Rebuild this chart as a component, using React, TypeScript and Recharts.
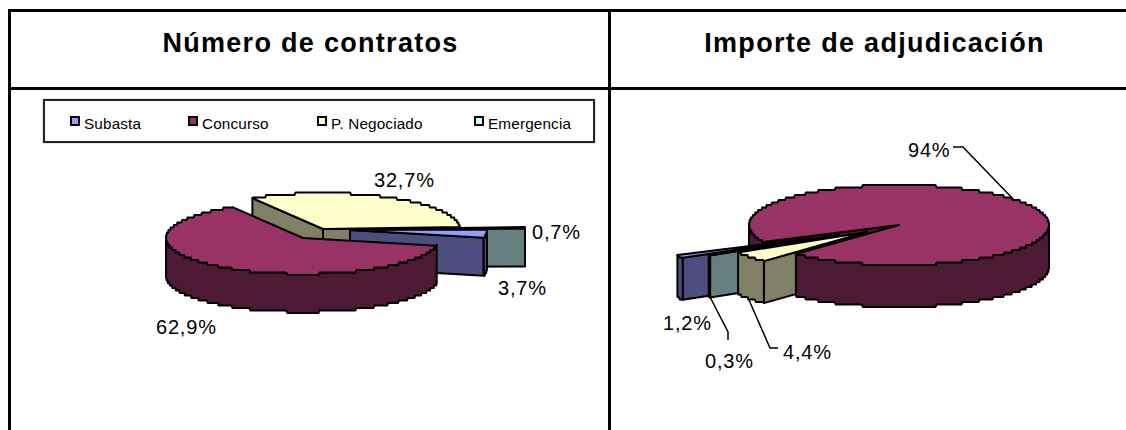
import React from 'react';
import { PieChart, Pie, Legend } from 'recharts';

const SERIES_NAMES = ['P. Negociado', 'Emergencia', 'Subasta', 'Concurso'];
const LEGEND_NAMES = ['Subasta', 'Concurso', 'P. Negociado', 'Emergencia'];
const CONTRACT_VALUES = [32.7, 0.7, 3.7, 62.9];
const AMOUNT_VALUES = [4.4, 0.3, 1.2, 94];
const TITLE_LEFT = 'Número de contratos';
const TITLE_RIGHT = 'Importe de adjudicación';

const TOP: Record<string, string> = { Subasta: '#9999ff', Concurso: '#993366', 'P. Negociado': '#ffffcc', Emergencia: '#ccffff' };
const WALL: Record<string, string> = { Subasta: '#4d4d80', Concurso: '#4d1a33', 'P. Negociado': '#808066', Emergencia: '#668080' };
const FONT = '"Liberation Sans", Arial, sans-serif';
const rad = Math.PI / 180;

const toRows = (values: number[]) => SERIES_NAMES.map((name, i) => ({ name, value: values[i] }));
const fmt = (v: number) => `${String(v).replace('.', ',')}%`;

type Geo = { ratio: number; depth: number; shift: Record<string, [number, number]> };

const LEFT_GEO: Geo = {
  ratio: 36 / 137,
  depth: 38,
  shift: { 'P. Negociado': [20, -9], Emergencia: [85, -9], Subasta: [47, -8], Concurso: [0, 0] },
};
const RIGHT_GEO: Geo = {
  ratio: 40 / 150,
  depth: 42,
  shift: { 'P. Negociado': [-32, 7], Emergencia: [-60, 10], Subasta: [-86, 13], Concurso: [0, 0] },
};

const path = (pts: number[][]) => pts.map((p, i) => `${i ? 'L' : 'M'}${p[0].toFixed(1)},${p[1].toFixed(1)}`).join('') + 'Z';
const STEP = 2.5;

function makeShape(geo: Geo, only: string, part: 'full' | 'back' | 'front') {
  return (props: any) => {
    const { cx, cy, outerRadius: rx, startAngle, endAngle, name } = props;
    if (name !== only) return <g />;
    const [dx, dy] = geo.shift[name];
    const ry = rx * geo.ratio;
    const x0 = cx + dx;
    const y0 = cy + dy;
    const pt = (a: number) => [x0 + rx * Math.cos(a * rad), Math.round((y0 - ry * Math.sin(a * rad)) / STEP) * STEP];
    const exact = (a: number) => [x0 + rx * Math.cos(a * rad), y0 - ry * Math.sin(a * rad)];
    const n = Math.max(2, Math.ceil(Math.abs(endAngle - startAngle) * 2));
    const angles = Array.from({ length: n + 1 }, (_, i) => startAngle + ((endAngle - startAngle) * i) / n);
    const arc = angles.map((a, i) => (i === 0 || i === n ? exact(a) : pt(a)));
    const runs: number[][][] = [];
    let cur: number[][] = [];
    angles.forEach((a, i) => {
      if (Math.sin(a * rad) <= 0.001) cur.push(arc[i]);
      else if (cur.length) {
        runs.push(cur);
        cur = [];
      }
    });
    if (cur.length) runs.push(cur);
    const wallOf = (r: number[][]) => path([...r, ...[...r].reverse().map((p) => [p[0], p[1] + geo.depth])]);
    const radial = (a: number) => {
      const e = exact(a);
      return path([[x0, y0], e, [e[0], e[1] + geo.depth], [x0, y0 + geo.depth]]);
    };
    const sw = { stroke: '#000', strokeWidth: 2, strokeLinejoin: 'round' as const };
    const startsFront = Math.sin(startAngle * rad) <= 0.001;
    let shownRuns = runs;
    if (part === 'back') shownRuns = startsFront ? runs.slice(0, 1) : [];
    if (part === 'front') shownRuns = startsFront ? runs.slice(1) : runs;
    const showStart = part !== 'front' && Math.cos(startAngle * rad) < 0;
    const showEnd = part !== 'front' && Math.cos(endAngle * rad) > 0;
    return (
      <g>
        {showStart && <path d={radial(startAngle)} fill={WALL[name]} {...sw} />}
        {showEnd && <path d={radial(endAngle)} fill={WALL[name]} {...sw} />}
        {shownRuns.map((r, i) => (
          <path key={i} d={wallOf(r)} fill={WALL[name]} {...sw} />
        ))}
        {part !== 'back' && <path d={path([[x0, y0], ...arc])} fill={TOP[name]} {...sw} />}
      </g>
    );
  };
}

type Lab = { dx: number; dy: number; line?: number[][] };

function makeLabel(layout: Record<string, Lab>) {
  return (props: any) => {
    const { cx, cy, name, value } = props;
    const l = layout[name];
    return (
      <g>
        {l.line && (
          <polyline
            points={l.line.map((p) => `${cx + p[0]},${cy + p[1]}`).join(' ')}
            fill="none"
            stroke="#000"
            strokeWidth={1.5}
          />
        )}
        <text x={cx + l.dx} y={cy + l.dy} fontFamily={FONT} fontSize={20} letterSpacing={0.8} fill="#000">
          {fmt(value)}
        </text>
      </g>
    );
  };
}

const LEFT_LABELS: Record<string, Lab> = {
  'P. Negociado': { dx: 71, dy: -51 },
  Emergencia: { dx: 229, dy: 1 },
  Subasta: { dx: 195, dy: 57 },
  Concurso: { dx: -147, dy: 96 },
};
const RIGHT_LABELS: Record<string, Lab> = {
  Concurso: { dx: 9, dy: -68, line: [[54, -78], [64, -78], [116, -24]] },
  Subasta: { dx: -236, dy: 105 },
  Emergencia: { dx: -194, dy: 143, line: [[-189, 72], [-171, 107], [-171, 115]] },
  'P. Negociado': { dx: -116, dy: 134, line: [[-150, 75], [-129, 123], [-121, 123]] },
};

const LEGEND_SLOTS = [25, 143, 272, 429];

const LegendBox = () => (
  <div
    style={{
      position: 'relative',
      width: 552,
      height: 44,
      boxSizing: 'border-box',
      border: '2px solid #222',
      boxShadow: '0 0 1px #666',
      background: '#fff',
      fontFamily: FONT,
      fontSize: 15.3,
      color: '#000',
    }}
  >
    {LEGEND_NAMES.map((n, i) => (
      <div key={n} style={{ position: 'absolute', left: LEGEND_SLOTS[i], top: 14, whiteSpace: 'nowrap', letterSpacing: 0.15 }}>
        <span
          style={{
            position: 'absolute',
            left: 0,
            top: 1,
            width: 6,
            height: 6,
            border: '2px solid #000',
            background: TOP[n],
          }}
        />
        <span style={{ marginLeft: 14 }}>{n}</span>
      </div>
    ))}
  </div>
);

const LEFT_LAYERS: [string, 'full' | 'back' | 'front'][] = [
  ['P. Negociado', 'full'],
  ['Emergencia', 'full'],
  ['Subasta', 'full'],
  ['Concurso', 'full'],
];
const RIGHT_LAYERS: [string, 'full' | 'back' | 'front'][] = [
  ['Concurso', 'back'],
  ['Subasta', 'full'],
  ['Emergencia', 'full'],
  ['P. Negociado', 'full'],
  ['Concurso', 'front'],
];

const Rule = ({ s }: { s: React.CSSProperties }) => <div style={{ position: 'absolute', background: '#000', ...s }} />;

const Title = ({ text, x, w, spacing }: { text: string; x: number; w: number; spacing: number }) => (
  <div
    style={{
      position: 'absolute',
      left: x,
      width: w,
      top: 29,
      textAlign: 'center',
      fontFamily: FONT,
      fontWeight: 700,
      fontSize: 27,
      lineHeight: '28px',
      letterSpacing: spacing,
      color: '#000',
      whiteSpace: 'nowrap',
    }}
  >
    {text}
  </div>
);

export default function App() {
  return (
    <div style={{ position: 'absolute', left: 0, top: 0, width: 1126, height: 430, overflow: 'hidden', background: '#fff' }}>
      <div style={{ position: 'absolute', left: 0, top: 0 }}>
        <PieChart width={608} height={430} margin={{ top: 0, right: 0, bottom: 0, left: 0 }}>
          <Legend content={<LegendBox />} wrapperStyle={{ left: 43, top: 99, width: 552, height: 44, bottom: 'auto' }} />
          {LEFT_LAYERS.map(([n, part], i) => (
            <Pie
              key={i}
              data={toRows(CONTRACT_VALUES)}
              dataKey="value"
              nameKey="name"
              cx={303}
              cy={238}
              outerRadius={137}
              startAngle={121}
              endAngle={-239}
              isAnimationActive={false}
              legendType="none"
              shape={makeShape(LEFT_GEO, n, part)}
              label={i === LEFT_LAYERS.length - 1 ? makeLabel(LEFT_LABELS) : false}
              labelLine={false}
            />
          ))}
        </PieChart>
      </div>
      <div style={{ position: 'absolute', left: 608, top: 0 }}>
        <PieChart width={518} height={430} margin={{ top: 0, right: 0, bottom: 0, left: 0 }}>
          {RIGHT_LAYERS.map(([n, part], i) => (
            <Pie
              key={i}
              data={toRows(AMOUNT_VALUES)}
              dataKey="value"
              nameKey="name"
              cx={291}
              cy={225}
              outerRadius={150}
              startAngle={226.6}
              endAngle={-133.4}
              isAnimationActive={false}
              legendType="none"
              shape={makeShape(RIGHT_GEO, n, part)}
              label={i === RIGHT_LAYERS.length - 1 ? makeLabel(RIGHT_LABELS) : false}
              labelLine={false}
            />
          ))}
        </PieChart>
      </div>
      <Rule s={{ left: 8, top: 9, width: 1118, height: 3 }} />
      <Rule s={{ left: 8, top: 87, width: 1118, height: 3 }} />
      <Rule s={{ left: 8, top: 9, width: 3, height: 421 }} />
      <Rule s={{ left: 608, top: 9, width: 3, height: 421 }} />
      <Title text={TITLE_LEFT} x={12} w={597} spacing={1.3} />
      <Title text={TITLE_RIGHT} x={617} w={515} spacing={1.3} />
    </div>
  );
}
